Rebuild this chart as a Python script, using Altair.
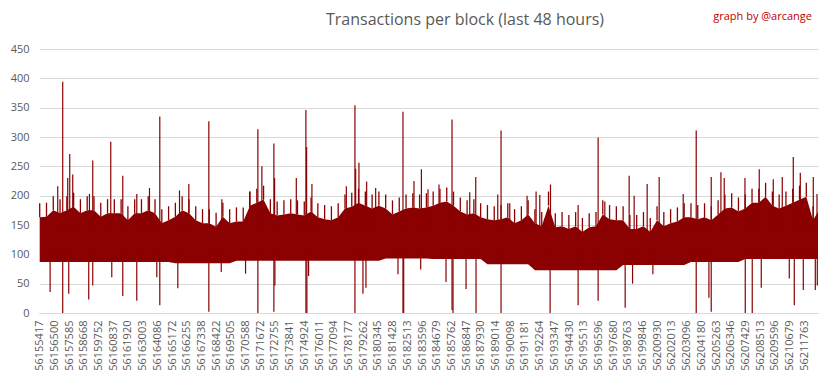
import altair as alt
import pandas as pd

# ---------------- data ----------------
title_text = "Transactions per block (last 48 hours)"
credit_text = "graph by @arcange"

y_ticks = [0, 50, 100, 150, 200, 250, 300, 350, 400, 450]

tick_blocks = [
    56155417, 56156500, 56157585, 56158668, 56159752, 56160837, 56161920, 56163003,
    56164086, 56165172, 56166255, 56167338, 56168422, 56169505, 56170588, 56171672,
    56172755, 56173841, 56174924, 56176011, 56177094, 56178177, 56179262, 56180345,
    56181428, 56182513, 56183596, 56184679, 56185762, 56186847, 56187930, 56189014,
    56190098, 56191181, 56192264, 56193347, 56194430, 56195513, 56196596, 56197680,
    56198763, 56199846, 56200930, 56202013, 56203096, 56204180, 56205263, 56206346,
    56207429, 56208513, 56209596, 56210679, 56211763,
]

# dense band of the series, sampled every 500 blocks from the first block
env_start = 56155417
env_step = 500
# top of the solid part of the band
band_core_top = [
    163, 164, 175, 170, 175, 181, 170, 175, 175, 164, 170, 170, 170, 158, 170, 170,
    175, 170, 153, 158, 164, 175, 170, 158, 153, 153, 147, 164, 153, 156,
    156, 183, 188, 193, 170, 166, 168, 170, 168, 166, 173, 163, 160, 158, 163, 178,
    181, 188, 183, 178, 183, 178, 168, 173, 178, 180, 178, 180,
    183, 188, 190, 183, 173, 168, 170, 163, 160, 158, 160, 163, 153, 158, 168, 153,
    148, 183, 146, 148, 143, 148, 138, 146, 148, 168, 160, 158,
    158, 143, 143, 148, 138, 158, 148, 153, 156, 163, 163, 160, 163, 158, 168, 178,
    180, 173, 178, 188, 188, 198, 183, 178, 183, 188, 193, 198, 158, 178,
]
# upper reach of the dense fringe above the solid part
band_outer_top = [
    187, 188, 199, 194, 199, 205, 194, 199, 199, 188, 194, 194, 194, 182, 194, 194,
    199, 194, 177, 182, 188, 199, 194, 182, 177, 177, 171, 188, 177, 180,
    180, 207, 212, 217, 194, 190, 192, 194, 192, 190, 197, 187, 184, 182, 187, 202,
    205, 212, 207, 202, 207, 202, 192, 197, 202, 204, 202, 204,
    207, 212, 214, 207, 197, 192, 194, 187, 184, 182, 184, 187, 177, 182, 192, 177,
    172, 207, 170, 172, 167, 172, 162, 170, 172, 192, 184, 182,
    182, 167, 167, 172, 162, 182, 172, 177, 180, 187, 187, 184, 187, 182, 192, 202,
    204, 197, 202, 212, 212, 222, 207, 202, 207, 212, 217, 222, 182, 202,
]
band_bottom = [
    87, 87, 87, 87, 87, 87, 87, 87, 87, 87, 87, 87, 87, 87, 87, 87, 87, 87, 87, 87,
    85, 85, 85, 85, 85, 85, 85, 85, 85,
    89, 89, 89, 89, 89, 89, 89, 89, 89, 89, 89, 89, 89, 89, 89, 89, 89, 89, 89, 89,
    89, 89, 93, 93, 93, 93, 93, 93, 93,
    92, 92, 92, 92, 92, 92, 92, 92,
    83, 83, 83, 83, 83, 83, 83,
    73, 73, 73, 73, 73, 73, 73, 73, 73, 73, 73, 73, 73,
    82, 82, 82, 82, 82, 82, 82, 82, 82, 82,
    87, 87, 87, 87, 87, 87, 87, 87,
    92, 92, 92, 92, 92, 92, 92, 92, 92, 92, 92, 92,
]

# isolated high blocks
spike_blocks = [
    56156745, 56157113, 56157482, 56157630, 56157851, 56159083, 56159326, 56160654,
    56161539, 56162572, 56163508, 56164268, 56165721, 56166407, 56167882, 56168841,
    56170885, 56171497, 56171792, 56172677, 56172729, 56174329, 56175037, 56175089,
    56175480, 56178017, 56178651, 56178703, 56178946, 56179514, 56180178, 56182192,
    56183003, 56183549, 56184036, 56184847, 56185806, 56187112, 56187554, 56189177,
    56189420, 56190062, 56191338, 56192002, 56192275, 56193064, 56195100, 56196575,
    56197069, 56198862, 56199230, 56200189, 56201074, 56202845, 56203804, 56204910,
    56205625, 56205869, 56207396, 56208450, 56209483, 56210147, 56210958, 56211475,
    56212433, 56212706,
]
spike_values = [
    216, 394, 230, 271, 236, 203, 260, 292,
    234, 203, 213, 335, 209, 220, 327, 194,
    207, 313, 250, 289, 230, 230, 346, 283,
    220, 216, 354, 246, 256, 224, 213, 343,
    225, 245, 211, 219, 330, 206, 232, 202,
    311, 187, 200, 207, 201, 219, 184, 299,
    190, 234, 200, 220, 232, 203, 311, 232,
    240, 230, 230, 245, 228, 232, 266, 239,
    232, 203,
]

# isolated low blocks
dip_blocks = [
    56156184, 56157113, 56157556, 56159031, 56159326, 56160728, 56161539, 56162572,
    56164047, 56164268, 56165596, 56167882, 56168797, 56170589, 56171497, 56172677,
    56172751, 56175037, 56175111, 56175236, 56178651, 56179241, 56179463, 56181823,
    56182192, 56182243, 56183497, 56185364, 56185806, 56185880, 56186839, 56187576,
    56189420, 56193035, 56195100, 56196575, 56198567, 56199112, 56200610, 56203804,
    56204740, 56204910, 56207418, 56207934, 56208598, 56210663, 56211032, 56211696,
    56212581, 56212729,
]
dip_values = [
    36, 0, 33, 23, 47, 61, 29, 21,
    61, 13, 42, 2, 70, 67, 0, 2,
    47, 0, 0, 63, 0, 33, 43, 66,
    0, 0, 74, 53, 5, 0, 41, 0,
    0, 0, 13, 21, 9, 50, 66, 0,
    26, 2, 0, 0, 43, 59, 13, 39,
    39, 47,
]

# ---------------- tables ----------------
band_df = pd.DataFrame({
    "block": [env_start + env_step * i for i in range(len(band_core_top))],
    "core": band_core_top,
    "outer": band_outer_top,
    "bottom": band_bottom,
})
spike_df = pd.DataFrame({"block": spike_blocks, "value": spike_values, "base": 140})
dip_df = pd.DataFrame({"block": dip_blocks, "value": dip_values, "base": 100})

RED = "#8B0000"
GREY = "#595959"
GRID = "#D9D9D9"
FONT = "Open Sans"

x_scale = alt.Scale(domain=[56155365, 56212780], nice=False, zero=False)
y_scale = alt.Scale(domain=[0, 450], nice=False)

x_axis = alt.Axis(
    values=tick_blocks, format="d", labelAngle=-90, labelOverlap=False,
    labelFlush=False, labelBound=False, grid=False, ticks=False, tickSize=0,
    labelPadding=7, labelColor=GREY, labelFontSize=11, labelFont=FONT,
    domainColor=GRID, domainWidth=1, title=None,
)
y_axis = alt.Axis(
    values=y_ticks, grid=True, gridColor=GRID, gridWidth=1, ticks=False, tickSize=0,
    domain=False, labelPadding=10, labelColor=GREY, labelFontSize=11,
    labelFont=FONT, labelOverlap=False, title=None,
)

X = alt.X("block:Q", scale=x_scale, axis=x_axis)

band = alt.Chart(band_df).mark_area(color=RED, clip=True, opacity=1).encode(
    x=X,
    y=alt.Y("bottom:Q", scale=y_scale, axis=y_axis),
    y2="core:Q",
)

fringe = alt.Chart(band_df).mark_rule(color=RED, strokeWidth=1.3, clip=True).encode(
    x=X,
    y=alt.Y("outer:Q", scale=y_scale, axis=y_axis),
    y2="core:Q",
)

spikes = alt.Chart(spike_df).mark_rule(color=RED, strokeWidth=1.2, clip=True).encode(
    x=X,
    y=alt.Y("value:Q", scale=y_scale, axis=y_axis),
    y2="base:Q",
)

dips = alt.Chart(dip_df).mark_rule(color=RED, strokeWidth=1.2, clip=True).encode(
    x=X,
    y=alt.Y("value:Q", scale=y_scale, axis=y_axis),
    y2="base:Q",
)

title = alt.Chart(pd.DataFrame({"t": [title_text]})).mark_text(
    font=FONT, fontSize=16, color=GREY, align="center", baseline="middle"
).encode(text="t:N", x=alt.value(426), y=alt.value(-29))

credit = alt.Chart(pd.DataFrame({"t": [credit_text]})).mark_text(
    font=FONT, fontSize=11, color="#C00000", align="right", baseline="middle"
).encode(text="t:N", x=alt.value(773), y=alt.value(-32))

chart = alt.layer(band, fringe, spikes, dips, title, credit).properties(
    width=779,
    height=264,
    autosize=alt.AutoSizeParams(type="none"),
    padding={"left": 31, "top": 41, "right": 7, "bottom": 58},
    background="white",
).configure_view(stroke=None)

chart.save("out.html", embed_options={"renderer": "svg", "actions": False})
